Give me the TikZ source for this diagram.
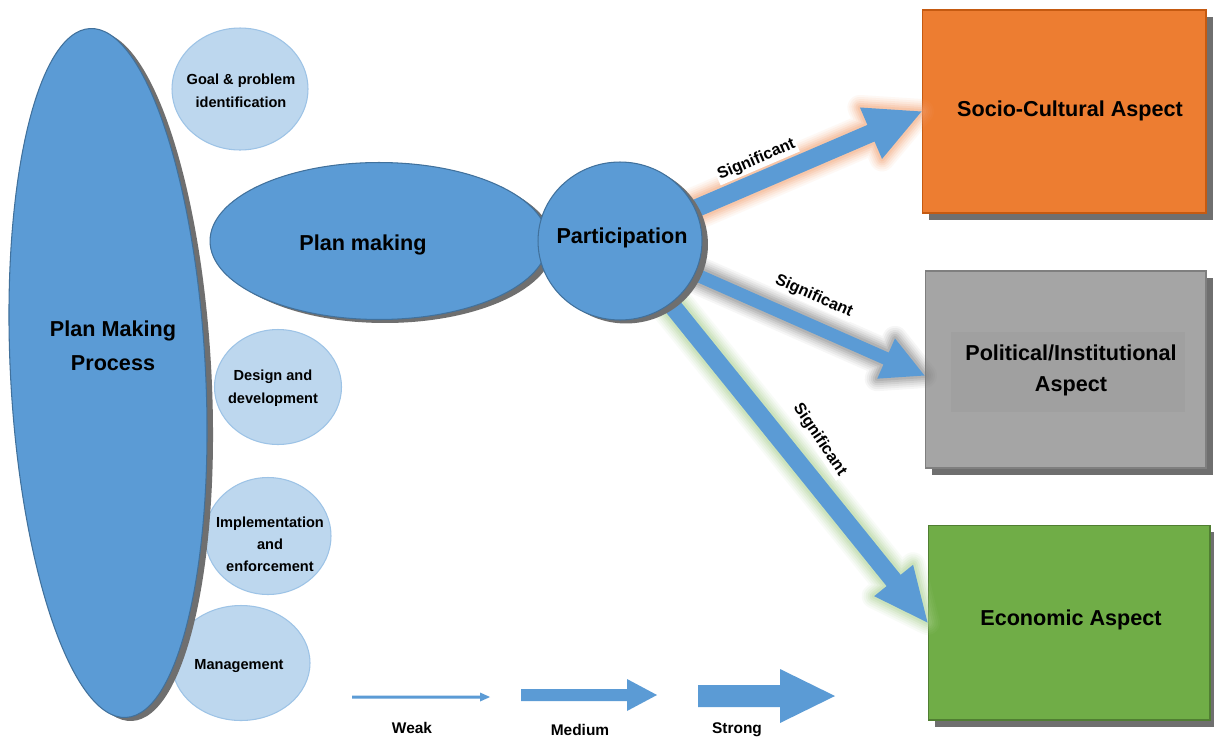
\documentclass[tikz,border=0pt]{standalone}
\usepackage{fontspec}
\setmainfont{Liberation Sans}
\usetikzlibrary{shapes.geometric,shadows,calc}
\definecolor{mblue}{HTML}{5B9BD5}
\definecolor{bblue}{HTML}{41719C}
\definecolor{lblue}{HTML}{BDD7EE}
\definecolor{lborder}{HTML}{9DC3E6}
\definecolor{shgray}{HTML}{6F6F6F}
\definecolor{orgfill}{HTML}{ED7D31}
\definecolor{orgline}{HTML}{C55A11}
\definecolor{gryfill}{HTML}{A5A5A5}
\definecolor{gryline}{HTML}{7F7F7F}
\definecolor{gryin}{HTML}{A0A0A0}
\definecolor{grnfill}{HTML}{70AD47}
\definecolor{grnline}{HTML}{507E32}
\definecolor{glowor}{HTML}{F4A070}
\definecolor{glowgr}{HTML}{808080}
\definecolor{glowgn}{HTML}{A9D18E}
\newcommand\fBig{\fontsize{12.3}{19.4}\selectfont\bfseries}
\newcommand\fSmall{\fontsize{8.3}{13}\selectfont\bfseries}
\newcommand\fSig{\fontsize{9.2}{11}\selectfont\bfseries}
\newcommand\fLeg{\fontsize{8.8}{11}\selectfont\bfseries}
% #1 start, #2 end, #3 half shaft, #4 half head, #5 head length, #6 options
\newcommand\blockarrow[6]{%
  \coordinate (ba-H) at ($(#2)!#5!(#1)$);
  \path[#6] ($(#1)!#3!90:(#2)$) -- ($(ba-H)!#3!90:(#2)$) -- ($(ba-H)!#4!90:(#2)$)
    -- (#2) -- ($(ba-H)!#4!-90:(#2)$) -- ($(ba-H)!#3!-90:(#2)$) -- ($(#1)!#3!-90:(#2)$) -- cycle;
}
\newcommand\glowarrow[6]{%
  \blockarrow{#1}{#2}{#3}{#4}{#5}{draw=#6,line width=0.50cm,line join=round,draw opacity=0.07}
  \blockarrow{#1}{#2}{#3}{#4}{#5}{draw=#6,line width=0.42cm,line join=round,draw opacity=0.09}
  \blockarrow{#1}{#2}{#3}{#4}{#5}{draw=#6,line width=0.34cm,line join=round,draw opacity=0.11}
  \blockarrow{#1}{#2}{#3}{#4}{#5}{draw=#6,line width=0.26cm,line join=round,draw opacity=0.14}
  \blockarrow{#1}{#2}{#3}{#4}{#5}{draw=#6,line width=0.18cm,line join=round,draw opacity=0.18}
  \blockarrow{#1}{#2}{#3}{#4}{#5}{draw=#6,line width=0.10cm,line join=round,draw opacity=0.22}
  \blockarrow{#1}{#2}{#3}{#4}{#5}{fill=mblue}
}
\begin{document}
\begin{tikzpicture}[x=0.02cm,y=-0.02cm,
  blueshape/.style={ellipse, fill=mblue, draw=bblue, line width=0.6pt, inner sep=0pt,
    drop shadow={shadow xshift=0.12cm, shadow yshift=-0.07cm, fill=shgray, opacity=1}},
  bubble/.style={ellipse, fill=lblue, draw=lborder, line width=0.6pt, inner sep=0pt},
  aspect/.style={rectangle, line width=0.6pt, align=center, font=\fBig, inner sep=0pt,
    drop shadow={shadow xshift=0.14cm, shadow yshift=-0.14cm, fill=shgray, opacity=1}},
  bigtxt/.style={font=\fBig, align=center, inner sep=0pt},
  smalltxt/.style={font=\fSmall, align=center, inner sep=0pt},
  siglab/.style={font=\fSig, fill=white, inner sep=1pt, sloped},
  legtxt/.style={font=\fLeg, inner sep=0pt}]
\useasboundingbox[fill=white] (0,0) rectangle (1214,741);

% small bubbles
\node[bubble, minimum width=2.72cm, minimum height=2.44cm] (goal) at (240,89) {};
\node[bubble, minimum width=2.54cm, minimum height=2.30cm] (design) at (278,387) {};
\node[bubble, minimum width=2.52cm, minimum height=2.34cm] (impl) at (268,536) {};
\node[bubble, minimum width=2.76cm, minimum height=2.30cm] (mgmt) at (241,663) {};

% plan making
\node[blueshape, minimum width=6.76cm, minimum height=3.14cm] (pm) at (379,241) {};

% aspect boxes
\node[aspect, fill=orgfill, draw=orgline, minimum width=5.68cm, minimum height=4.06cm] (soc) at (1064,111.5) {};
\node[aspect, fill=gryfill, draw=gryline, minimum width=5.62cm, minimum height=3.94cm] (pol) at (1065.5,369.5) {};
\node[fill=gryin, minimum width=4.7cm, minimum height=1.62cm] (polin) at (1068,372) {};
\node[aspect, fill=grnfill, draw=grnline, minimum width=5.64cm, minimum height=3.90cm] (eco) at (1069,622.5) {};

% participation anchor and arrows
\coordinate (pc) at (620,241);
\coordinate (pol-in) at ($(pol.west)+(0,6)$);
\glowarrow{pc}{soc.west}{0.18cm}{0.56cm}{1.1cm}{glowor}
\glowarrow{pc}{pol-in}{0.13cm}{0.44cm}{0.84cm}{glowgr}
\glowarrow{pc}{eco.west}{0.18cm}{0.50cm}{1.08cm}{glowgn}

\path (pc) -- (soc.west) node[siglab, pos=0.48, above=0.22cm] {Significant};
\path (pc) -- (pol-in) node[siglab, pos=0.6, above=0.36cm] {Significant};
\path (pc) -- (eco.west) node[siglab, pos=0.57, above=0.42cm, rotate=-5] {Significant};

% participation circle
\node[blueshape, minimum width=3.28cm, minimum height=3.16cm] (part) at (pc) {};

% big ellipse
\node[blueshape, rotate=3, minimum width=3.9cm, minimum height=13.8cm] (pmp) at (108,373) {};

% texts
\node[bigtxt] (pmp-t) at (113,346) {Plan Making\\Process};
\node[bigtxt] (pm-t) at (363,245) {Plan making};
\node[bigtxt] (part-t) at (622,238) {Participation};
\node[smalltxt] (goal-t) at (241,91) {Goal \& problem\\identification};
\node[smalltxt] (design-t) at (273,388) {Design and\\development};
\node[smalltxt, font=\fontsize{8.3}{12.5}\selectfont\bfseries] (impl-t) at (270,544) {Implementation\\and\\enforcement};
\node[smalltxt] (mgmt-t) at (239,666) {Management};
\node[bigtxt] (soc-t) at (1070,111) {Socio-Cultural Aspect};
\node[bigtxt, font=\fontsize{12.3}{17.6}\selectfont\bfseries] (pol-t) at (1071,370) {Political/Institutional\\Aspect};
\node[bigtxt] (eco-t) at (1071,620) {Economic Aspect};

% legend
\coordinate (wk-a) at (352,697); \coordinate (wk-b) at (490,697);
\coordinate (md-a) at (521,695); \coordinate (md-b) at (657,695);
\coordinate (st-a) at (698,696); \coordinate (st-b) at (835,696);
\blockarrow{wk-a}{wk-b}{0.03cm}{0.09cm}{0.2cm}{fill=mblue}
\blockarrow{md-a}{md-b}{0.12cm}{0.32cm}{0.6cm}{fill=mblue}
\blockarrow{st-a}{st-b}{0.22cm}{0.54cm}{1.1cm}{fill=mblue}
\node[legtxt] (wk-t) at (412,728) {Weak};
\node[legtxt] (md-t) at (580,730) {Medium};
\node[legtxt] (st-t) at (737,730) {Strong};
\end{tikzpicture}
\end{document}
